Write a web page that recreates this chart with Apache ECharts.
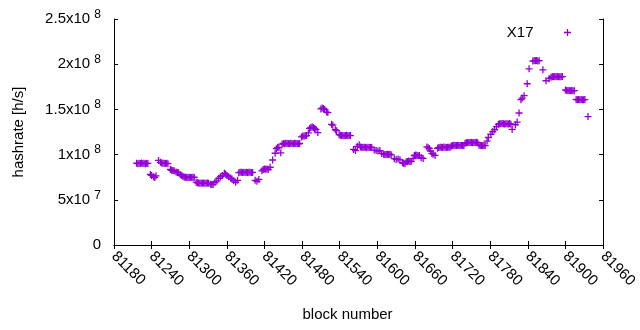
<!DOCTYPE html>
<html>
<head>
<meta charset="utf-8">
<script src="https://cdn.jsdelivr.net/npm/echarts@6/dist/echarts.min.js"></script>
<style>
  html, body { margin: 0; padding: 0; background: #fff; }
  #chart { width: 640px; height: 330px; }
</style>
</head>
<body>
<div id="chart"></div>
<script>
// block numbers (x) and hashrate in MH/s (y)
const blocks = [
  81216, 81218, 81220, 81222, 81224, 81226, 81228, 81230, 81232, 81234,
  81238, 81240, 81243, 81245, 81247,
  81251, 81254, 81256, 81258, 81260, 81262, 81264, 81266,
  81270, 81272, 81274, 81276, 81279, 81281, 81283, 81286, 81288, 81290,
  81292, 81294, 81296, 81298, 81300, 81302, 81304, 81306, 81308,
  81311, 81313, 81315, 81317, 81319, 81321, 81323, 81325, 81327, 81329, 81331,
  81334, 81336, 81338, 81341, 81344, 81347, 81350, 81353, 81356,
  81358, 81360, 81363, 81366, 81368, 81371, 81374, 81377,
  81379, 81381, 81383, 81385, 81387, 81389, 81391, 81393, 81395, 81397, 81399, 81401,
  81405, 81408, 81411,
  81416, 81418, 81420, 81422, 81424, 81426,
  81429, 81433,
  81437, 81439, 81441, 81443, 81446,
  81448, 81450, 81452, 81454, 81456, 81458, 81460, 81462, 81464, 81466, 81468, 81470, 81472, 81474, 81476,
  81479, 81481, 81483, 81485, 81487,
  81490, 81492, 81494, 81496, 81498, 81500, 81502, 81505,
  81510, 81512, 81514, 81516, 81519, 81521,
  81527, 81529, 81533, 81535,
  81539, 81541, 81543, 81545, 81547, 81549, 81551, 81553, 81555, 81557,
  81562, 81565, 81568, 81571,
  81573, 81575, 81577, 81579, 81581, 81583, 81585, 81587, 81589, 81591,
  81595, 81598, 81601, 81604, 81607,
  81610, 81612, 81614, 81616, 81618, 81620, 81622,
  81627, 81630, 81633, 81636, 81640, 81642, 81644, 81646, 81648, 81650, 81652, 81654,
  81657, 81659, 81661, 81663, 81665, 81667, 81670,
  81673, 81679, 81681, 81683, 81685, 81687, 81689, 81692,
  81696, 81698, 81700, 81702, 81704, 81706, 81708, 81710, 81712, 81714, 81716,
  81718, 81720, 81722, 81724, 81726, 81728, 81730, 81732, 81734, 81736, 81738,
  81740, 81742, 81744, 81746, 81748, 81750, 81752, 81754, 81756, 81758, 81760,
  81762, 81764, 81766, 81768, 81770, 81772,
  81775, 81777, 81781, 81784, 81787, 81790,
  81793, 81795, 81797, 81799, 81801, 81803, 81805, 81807, 81809, 81811, 81813,
  81815, 81820, 81823, 81826, 81829, 81831, 81834, 81839, 81842,
  81848, 81850, 81852, 81854, 81856, 81858,
  81864, 81869,
  81874, 81877, 81879, 81881, 81883, 81885, 81887, 81889, 81891, 81893, 81895,
  81900, 81902, 81904, 81906, 81908, 81910, 81912, 81914,
  81917, 81919, 81921, 81923, 81925, 81927, 81929, 81931,
  81936
]
const hashrateMH = [
  90.5, 90.0, 90.4, 90.2, 90.6, 90.1, 90.3, 90.0, 90.4, 90.2,
  78.0, 77.0, 75.5, 74.8, 76.5,
  93.6, 91.5, 90.8, 90.5, 90.3, 90.2, 90.4, 90.0,
  83.5, 82.6, 82.4, 82.0, 80.8, 80.2, 79.8, 77.8, 76.8, 75.8,
  75.2, 74.9, 74.8, 75.0, 74.6, 74.9, 74.7, 75.0, 74.8,
  69.5, 68.8, 68.5, 68.3, 68.6, 68.2, 68.5, 68.4, 68.2, 68.6, 68.3,
  67.2, 66.8, 67.0, 69.4, 71.0, 73.8, 75.5, 77.0, 79.3,
  78.5, 77.0, 75.5, 74.0, 73.0, 71.0, 69.4, 71.5,
  80.0, 80.4, 80.6, 80.2, 80.5, 80.3, 80.6, 80.2, 80.4, 80.5, 80.1, 80.3,
  71.5, 70.5, 72.5,
  82.0, 83.5, 84.0, 83.7, 84.0, 83.5,
  86.0, 94.0,
  101.5, 106.5, 108.0, 107.5, 102.0,
  111.5, 112.3, 112.0, 112.5, 112.2, 112.4, 112.0, 112.6, 112.3, 112.1, 112.5, 112.2, 112.4, 112.0, 112.3,
  119.5, 120.5, 120.2, 120.8, 121.0,
  124.0, 129.0, 130.0, 130.5, 130.0, 129.0, 127.8, 124.4,
  150.5, 151.5, 151.0, 150.0, 147.0, 146.5,
  133.5, 132.5, 127.5, 126.5,
  122.0, 121.5, 121.0, 121.2, 120.8, 121.1, 121.3, 120.9, 121.2, 121.0,
  105.7, 104.5, 109.0, 111.0,
  108.5, 108.0, 107.8, 108.2, 108.0, 107.7, 108.1, 107.9, 108.2, 107.8,
  105.0, 104.6, 104.0, 104.5, 101.3,
  100.5, 100.2, 100.0, 100.3, 100.1, 100.4, 99.8,
  95.5, 94.7, 95.0, 94.2, 91.0, 90.3, 89.8, 92.0, 92.5, 92.8, 92.3, 92.6,
  95.5, 99.0, 99.5, 99.2, 98.8, 99.0, 96.5,
  95.8, 108.5, 107.5, 106.8, 104.0, 101.3, 100.5, 99.1,
  107.0, 107.8, 108.2, 108.0, 107.9, 108.3, 108.0, 107.8, 108.1, 108.0, 108.2,
  109.5, 110.0, 110.3, 110.1, 110.0, 110.4, 110.2, 110.0, 110.3, 110.1, 110.2,
  112.5, 113.2, 113.5, 113.3, 113.6, 113.4, 113.2, 113.5, 113.3, 113.6, 113.2,
  110.5, 110.0, 110.2, 109.8, 110.1, 110.0,
  115.0, 118.9, 122.5, 125.5, 127.5, 131.0,
  133.5, 134.2, 134.0, 134.4, 134.1, 133.8, 134.2, 134.0, 133.9, 134.3, 133.6,
  127.8, 133.0, 136.0, 146.0, 160.8, 162.5, 165.2, 178.4, 194.9,
  203.5, 204.0, 203.8, 204.2, 203.6, 203.9,
  193.8, 181.7,
  184.0, 185.5, 186.5, 186.0, 186.3, 186.1, 186.4, 186.0, 186.2, 186.0, 186.3,
  171.5, 170.8, 170.5, 170.9, 170.6, 170.8, 170.5, 170.7,
  161.0, 160.6, 160.9, 160.7, 161.0, 160.6, 160.8, 160.9,
  142.1
]

const seriesName = 'X17'
const plusIcon = 'path://M0,2.85H7V4.15H0Z M2.85,0H4.15V7H2.85Z'
const purple = '#9400d3'
const font = 'Liberation Sans, Arial, sans-serif'

const points = blocks.map((b, i) => [b, hashrateMH[i] * 1e6])

const yLabel = (v) => {
  if (v === 0) return '{b|0}'
  const e = Math.floor(Math.log10(v))
  const m = Math.round(v / Math.pow(10, e) * 10) / 10
  return '{b|' + m + 'x10 }{s|' + e + '}'
}

const chart = echarts.init(document.getElementById('chart'))
const xCommon = { type: 'value', min: 81180, max: 81960, interval: 60 }
const yCommon = { type: 'value', min: 0, max: 2.5e8, interval: 5e7 }
const line = { show: true, lineStyle: { color: '#000', width: 1 } }
const tick = { show: true, inside: true, length: 4, lineStyle: { color: '#000' } }

chart.setOption({
  animation: false,
  textStyle: { fontFamily: font },
  grid: { left: 114, right: 31, top: 19, bottom: 85 },
  legend: {
    data: [{ name: seriesName, icon: plusIcon }],
    right: 64,
    top: 20,
    align: 'right',
    itemWidth: 58,
    itemHeight: 7,
    textStyle: { fontSize: 15, color: '#000', fontFamily: font }
  },
  xAxis: [
    Object.assign({}, xCommon, {
      position: 'bottom',
      axisLine: line,
      axisTick: tick,
      splitLine: { show: false },
      axisLabel: {
        rotate: -45, margin: 9, fontSize: 15, color: '#000', fontFamily: font,
        formatter: (v) => String(v)
      },
      name: 'block number',
      nameLocation: 'middle',
      nameGap: 62,
      nameTextStyle: { fontSize: 15, color: '#000', fontFamily: font, padding: [0, 22, 0, 0] }
    }),
    Object.assign({}, xCommon, {
      position: 'top',
      axisLine: line,
      axisTick: tick,
      splitLine: { show: false },
      axisLabel: { show: false }
    })
  ],
  yAxis: [
    Object.assign({}, yCommon, {
      position: 'left',
      axisLine: line,
      axisTick: tick,
      splitLine: { show: false },
      axisLabel: {
        margin: 13,
        formatter: yLabel,
        rich: {
          b: { fontSize: 15, lineHeight: 15, color: '#000', fontFamily: font, verticalAlign: 'bottom' },
          s: { fontSize: 12, lineHeight: 12, color: '#000', fontFamily: font, verticalAlign: 'bottom', padding: [0, 0, 6, 0] }
        }
      },
      name: 'hashrate [h/s]',
      nameLocation: 'middle',
      nameGap: 88,
      nameTextStyle: { fontSize: 15, color: '#000', fontFamily: font }
    }),
    Object.assign({}, yCommon, {
      position: 'right',
      axisLine: line,
      axisTick: tick,
      splitLine: { show: false },
      axisLabel: { show: false }
    })
  ],
  series: [{
    name: seriesName,
    type: 'scatter',
    xAxisIndex: 0,
    yAxisIndex: 0,
    symbol: plusIcon,
    symbolSize: 7,
    itemStyle: { color: purple, opacity: 1 },
    data: points
  }]
})
</script>
</body>
</html>
